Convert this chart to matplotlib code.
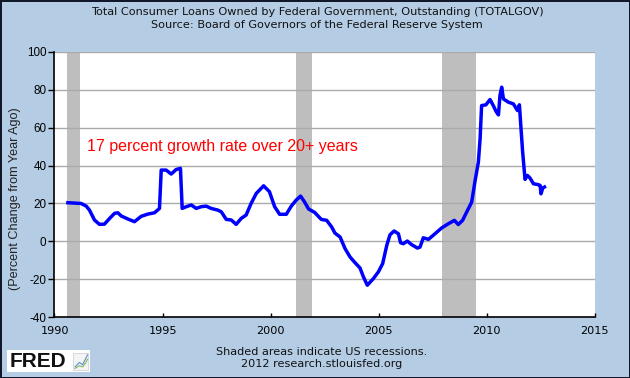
import numpy as np
import matplotlib
matplotlib.use("Agg")
import matplotlib.pyplot as plt

# values (decimal year, percent change)
years = [1990.62, 1991.23, 1991.47, 1991.62, 1991.85, 1992.08, 1992.31, 1992.55,
         1992.78, 1992.93, 1993.09, 1993.40, 1993.70, 1994.01, 1994.32, 1994.63,
         1994.86, 1994.94, 1995.17, 1995.40, 1995.63, 1995.83, 1995.91, 1996.10,
         1996.33, 1996.56, 1996.79, 1997.02, 1997.25, 1997.56, 1997.72, 1997.95,
         1998.18, 1998.41, 1998.64, 1998.87, 1999.10, 1999.34, 1999.68, 1999.95,
         2000.19, 2000.42, 2000.73, 2000.96, 2001.19, 2001.39, 2001.57, 2001.76,
         2002.04, 2002.35, 2002.60, 2002.83, 2002.98, 2003.22, 2003.45, 2003.68,
         2003.91, 2004.14, 2004.30, 2004.48, 2004.76, 2004.99, 2005.19, 2005.38,
         2005.53, 2005.72, 2005.92, 2006.02, 2006.15, 2006.33, 2006.53, 2006.80,
         2006.92, 2007.07, 2007.31, 2007.61, 2007.92, 2008.23, 2008.51, 2008.69,
         2008.89, 2009.08, 2009.31, 2009.47, 2009.62, 2009.70, 2009.77, 2009.97,
         2010.16, 2010.31, 2010.44, 2010.55, 2010.62, 2010.70, 2010.78, 2011.01,
         2011.24, 2011.43, 2011.52, 2011.60, 2011.67, 2011.78, 2011.89, 2012.01,
         2012.17, 2012.40, 2012.48, 2012.52, 2012.60, 2012.68]
pct = [20.4, 20.0, 18.6, 16.5, 11.3, 9.0, 9.1, 12.1,
       14.8, 15.1, 13.4, 11.8, 10.4, 13.2, 14.4, 15.1,
       17.4, 37.6, 37.6, 35.5, 37.9, 38.5, 17.4, 18.3,
       19.2, 17.4, 18.3, 18.6, 17.4, 16.5, 15.6, 11.6,
       11.3, 9.0, 12.1, 13.9, 20.0, 25.3, 29.3, 26.2,
       18.3, 14.3, 14.3, 18.6, 21.8, 23.9, 20.9, 17.1,
       15.3, 11.6, 11.1, 7.6, 4.4, 2.3, -3.8, -8.2,
       -11.2, -14.0, -18.7, -23.1, -19.6, -16.1, -11.7, -2.1,
       3.5, 5.5, 4.0, -0.7, -1.2, 0.2, -1.7, -3.5,
       -3.0, 1.9, 1.1, 4.0, 7.1, 9.3, 11.1, 8.9,
       11.1, 15.5, 20.7, 32.1, 41.8, 54.1, 71.6, 72.0,
       74.8, 71.6, 68.5, 66.7, 76.9, 81.3, 75.1, 73.4,
       72.5, 69.0, 72.0, 58.5, 47.1, 32.7, 34.8, 33.4,
       30.4, 29.9, 29.5, 25.1, 28.2, 28.7]
recessions = [(1990.58, 1991.17), (2001.17, 2001.92), (2007.92, 2009.50)]
xticks = [1990, 1995, 2000, 2005, 2010, 2015]
yticks = [-40, -20, 0, 20, 40, 60, 80, 100]

bg = '#B4CDE5'
fig = plt.figure(figsize=(6.3, 3.78), dpi=100, facecolor=bg)
fig.patch.set_edgecolor('#10182a')
fig.patch.set_linewidth(2)
ax = fig.add_axes([0.0865, 0.1606, 0.8573, 0.7026])
ax.set_facecolor('white')

for a, b in recessions:
    ax.axvspan(a, b, color='#BEBEBE', lw=0, zorder=1)
for t in yticks[1:]:
    ax.axhline(t, color='#AAAAAA', lw=1, zorder=1.5)

ax.plot(years, pct, color='#0000FF', lw=2.5, zorder=3)

ax.set_xlim(1990, 2015)
ax.set_ylim(-40, 100)
ax.set_xticks(xticks)
ax.set_yticks(yticks)
ax.set_xticklabels([str(x) for x in xticks], family='DejaVu Sans', fontsize=8.1)
ax.set_yticklabels([str(y) for y in yticks], family='Liberation Sans', fontsize=8.4)
ax.tick_params(axis='y', direction='out', length=4.3, width=1, pad=1.5, color='black')
ax.tick_params(axis='x', direction='in', length=3.2, width=1, pad=6.0, color='black')
for s in ['top', 'right']:
    ax.spines[s].set_visible(False)
for s in ['left', 'bottom']:
    ax.spines[s].set_color('black')
    ax.spines[s].set_linewidth(1.2)

ax.text(1991.49, 50, '17 percent growth rate over 20+ years', color='#FF0000',
        family='Liberation Sans', fontsize=11.5, va='center', ha='left', zorder=4)

fig.text(0.024, 0.474, '(Percent Change from Year Ago)', rotation=90, ha='center',
         va='center', family='Liberation Sans', fontsize=9.1, color='#222222')

fs = 8.1
fig.text(0.503, 0.969, 'Total Consumer Loans Owned by Federal Government, Outstanding (TOTALGOV)',
         ha='center', va='center', family='DejaVu Sans', fontsize=fs, color='#111111')
fig.text(0.503, 0.934, 'Source: Board of Governors of the Federal Reserve System',
         ha='center', va='center', family='DejaVu Sans', fontsize=fs, color='#111111')
fig.text(0.510, 0.0696, 'Shaded areas indicate US recessions.',
         ha='center', va='center', family='DejaVu Sans', fontsize=fs, color='#111111')
fig.text(0.510, 0.0362, '2012 research.stlouisfed.org',
         ha='center', va='center', family='DejaVu Sans', fontsize=fs, color='#111111')

# FRED logo: white box, word mark and small chart icon
logo = fig.add_axes([0.011, 0.015, 0.132, 0.058])
logo.set_facecolor('white')
logo.set_xlim(0, 1)
logo.set_ylim(0, 1)
logo.set_axis_off()
logo.add_patch(plt.Rectangle((0, 0), 1, 1, color='white', transform=logo.transAxes))
logo.text(0.03, 0.48, 'FRED', ha='left', va='center', family='Liberation Sans',
          fontsize=15, fontweight='bold', color='#111111')
logo.add_patch(plt.Rectangle((0.80, 0.12), 0.18, 0.76, facecolor='#F4F4F4',
                             edgecolor='#CCCCCC', lw=0.5))
logo.plot([0.82, 0.87, 0.91, 0.95, 0.97], [0.25, 0.45, 0.35, 0.65, 0.8],
          color='#5A8FCF', lw=0.8)
logo.plot([0.82, 0.87, 0.91, 0.95, 0.97], [0.18, 0.3, 0.25, 0.45, 0.6],
          color='#7FB85A', lw=0.8)

fig.savefig('out.png', dpi=100, facecolor=bg, edgecolor=fig.patch.get_edgecolor())
